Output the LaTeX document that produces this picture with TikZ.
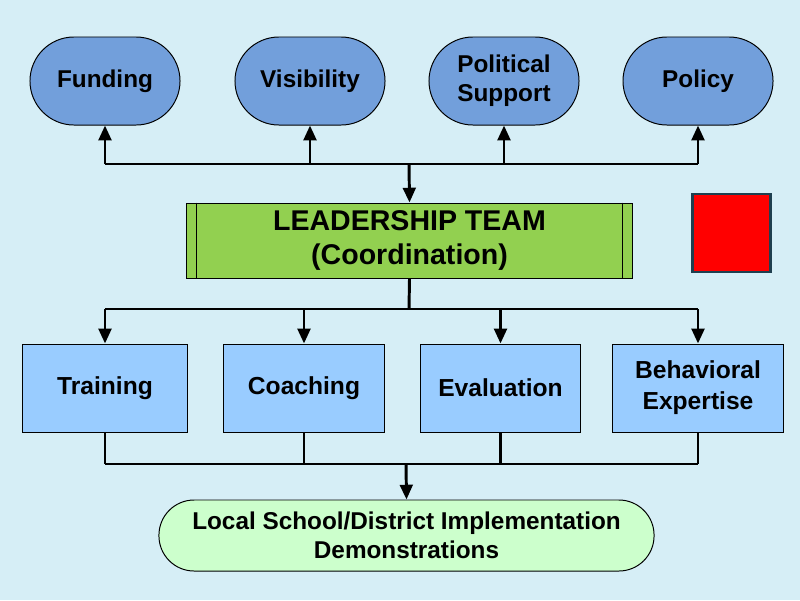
\documentclass[tikz,border=0pt]{standalone}
\usepackage{fontspec}
\setmainfont{Liberation Sans}
\usetikzlibrary{arrows.meta}
\definecolor{bgblue}{HTML}{D6EEF6}
\definecolor{pillblue}{HTML}{729FDB}
\definecolor{leadgreen}{HTML}{92D050}
\definecolor{boxblue}{HTML}{99CCFF}
\definecolor{localgreen}{HTML}{CCFFCC}
\definecolor{redborder}{HTML}{1F3F4F}
\tikzset{
  pill/.style={draw=black, line width=0.7pt, fill=pillblue, rounded corners=1.1cm,
    minimum width=3.75cm, minimum height=2.2cm, align=center,
    font=\bfseries\fontsize{17.3}{20.5}\selectfont},
  task/.style={draw=black, line width=0.7pt, fill=boxblue, minimum height=2.2cm,
    align=center, font=\bfseries\fontsize{17.5}{22}\selectfont},
  conn/.style={line width=2.1pt},
  tip/.style={conn, -{Triangle[length=10.5pt,width=9pt]}}
}
\begin{document}
\begin{tikzpicture}[x=0.025cm, y=-0.025cm]
  \fill[bgblue] (0,0) rectangle (800,600);
  \useasboundingbox (0,0) rectangle (800,600);
  %resources
  \node[pill] (fund) at (105,81) {Funding};
  \node[pill] (vis) at (310,81) {Visibility};
  \node[pill] (pol) at (504,81) {Political\\Support};
  \node[pill] (policy) at (698,81) {Policy};
  %leadership
  \node[draw=black, line width=0.7pt, fill=leadgreen, minimum width=11.125cm, minimum height=1.875cm,
    align=center, font=\bfseries\fontsize{20.3}{24.5}\selectfont] (lead) at (409.5,240.5) {LEADERSHIP TEAM\\(Coordination)};
  \draw[line width=0.7pt] ([xshift=0.25cm]lead.north west) -- ([xshift=0.25cm]lead.south west);
  \draw[line width=0.7pt] ([xshift=-0.25cm]lead.north east) -- ([xshift=-0.25cm]lead.south east);
  \node[draw=redborder, line width=1.5pt, fill=red, minimum width=1.95cm, minimum height=1.95cm] (mark) at (731.5,233) {};
  %capacity
  \node[task, minimum width=4.125cm] (train) at (105,388) {Training};
  \node[task, minimum width=4cm] (coach) at (304,388) {Coaching};
  \node[task, minimum width=3.975cm] (eval) at (500.5,388) {Evaluation};
  \node[task, minimum width=4.25cm] (behav) at (698,388) {Behavioral\\Expertise};
  \node[draw=black, line width=0.7pt, fill=localgreen, rounded corners=0.88cm, minimum width=12.375cm,
    minimum height=1.775cm, align=center, font=\bfseries\fontsize{17.3}{20.5}\selectfont] (local) at (406.5,535.5) {Local School/District Implementation\\Demonstrations};
  %buses
  \coordinate (topbus) at (409,164);
  \coordinate (midbus) at (409,309);
  \coordinate (lowbus) at (406,464);
  \draw[conn] (fund.south |- topbus) -- (policy.south |- topbus);
  \foreach \n in {fund,vis,pol,policy}
    \draw[tip] (\n.south |- topbus) -- (\n.south);
  \draw[tip] (topbus) -- (lead.north);
  \draw[conn] (lead.south) -- (midbus);
  \draw[conn] (train.north |- midbus) -- (behav.north |- midbus);
  \foreach \n in {train,coach,eval,behav}
    \draw[tip] (\n.north |- midbus) -- (\n.north);
  \draw[conn] (train.south |- lowbus) -- (behav.south |- lowbus);
  \foreach \n in {train,coach,eval,behav}
    \draw[conn] (\n.south) -- (\n.south |- lowbus);
  \draw[tip] (lowbus) -- (local.north);
\end{tikzpicture}
\end{document}
